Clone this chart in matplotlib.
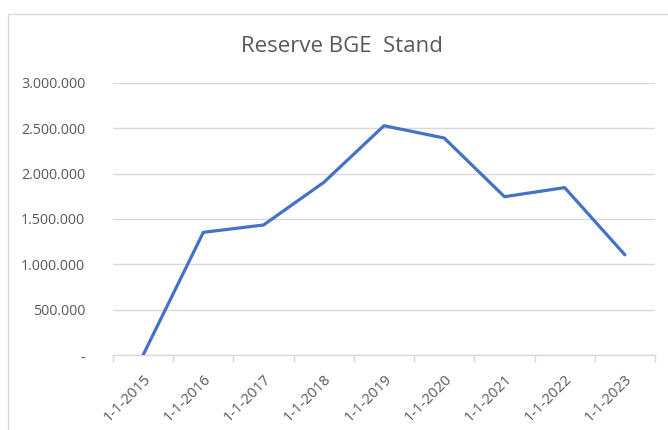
import matplotlib
matplotlib.use("Agg")
import matplotlib.pyplot as plt
from matplotlib.ticker import FuncFormatter, FixedLocator
from matplotlib.patches import Rectangle

# data
labels = ["1-1-2015", "1-1-2016", "1-1-2017", "1-1-2018", "1-1-2019",
          "1-1-2020", "1-1-2021", "1-1-2022", "1-1-2023"]
values = [0, 1353000, 1434000, 1904000, 2529000, 2393000, 1746000, 1846000, 1105000]
yticks = [0, 500000, 1000000, 1500000, 2000000, 2500000, 3000000]

plt.rcParams["font.family"] = ["Open Sans", "DejaVu Sans"]
grey = "#595959"
gridc = "#D9D9D9"

fig = plt.figure(figsize=(6.68, 4.30), dpi=100)
ax = fig.add_axes([113 / 668, 1 - 355 / 430, (655 - 113) / 668, (355 - 83) / 430])

# chart area border
fig.patches.append(Rectangle((8 / 668, -0.1), 1.0, 1 - 14 / 430 + 0.1,
                             transform=fig.transFigure, fill=False,
                             edgecolor=gridc, linewidth=1))

x = list(range(len(labels)))
ax.plot(x, values, color="#4472C4", linewidth=2.3, solid_capstyle="round",
        solid_joinstyle="round", zorder=3)

ax.set_xlim(-0.5, len(labels) - 0.5)
ax.set_ylim(0, 3000000)
ax.set_yticks(yticks)


def fmt(v, pos):
    if v == 0:
        return "-"
    return f"{int(v):,}".replace(",", ".")


ax.yaxis.set_major_formatter(FuncFormatter(fmt))
ax.set_xticks(x)
ax.set_xticklabels(labels, rotation=45, ha="right", rotation_mode="anchor")
ax.xaxis.set_minor_locator(FixedLocator([i - 0.5 for i in range(len(labels) + 1)]))

ax.grid(axis="y", color=gridc, linewidth=1)
ax.set_axisbelow(True)
for s in ["top", "right", "left"]:
    ax.spines[s].set_visible(False)
ax.spines["bottom"].set_color(gridc)
ax.spines["bottom"].set_linewidth(1)

ax.tick_params(axis="y", length=0, pad=20, labelsize=10.3, labelcolor=grey)
ax.tick_params(axis="x", which="major", length=0, pad=12, labelsize=10.6, labelcolor=grey)
ax.tick_params(axis="x", which="minor", length=5, color=gridc, width=1)

fig.text(342 / 668, 1 - 47 / 430, "Reserve BGE  Stand", ha="center", va="center",
         fontsize=16, color=grey)

fig.savefig("out.png", dpi=100)
